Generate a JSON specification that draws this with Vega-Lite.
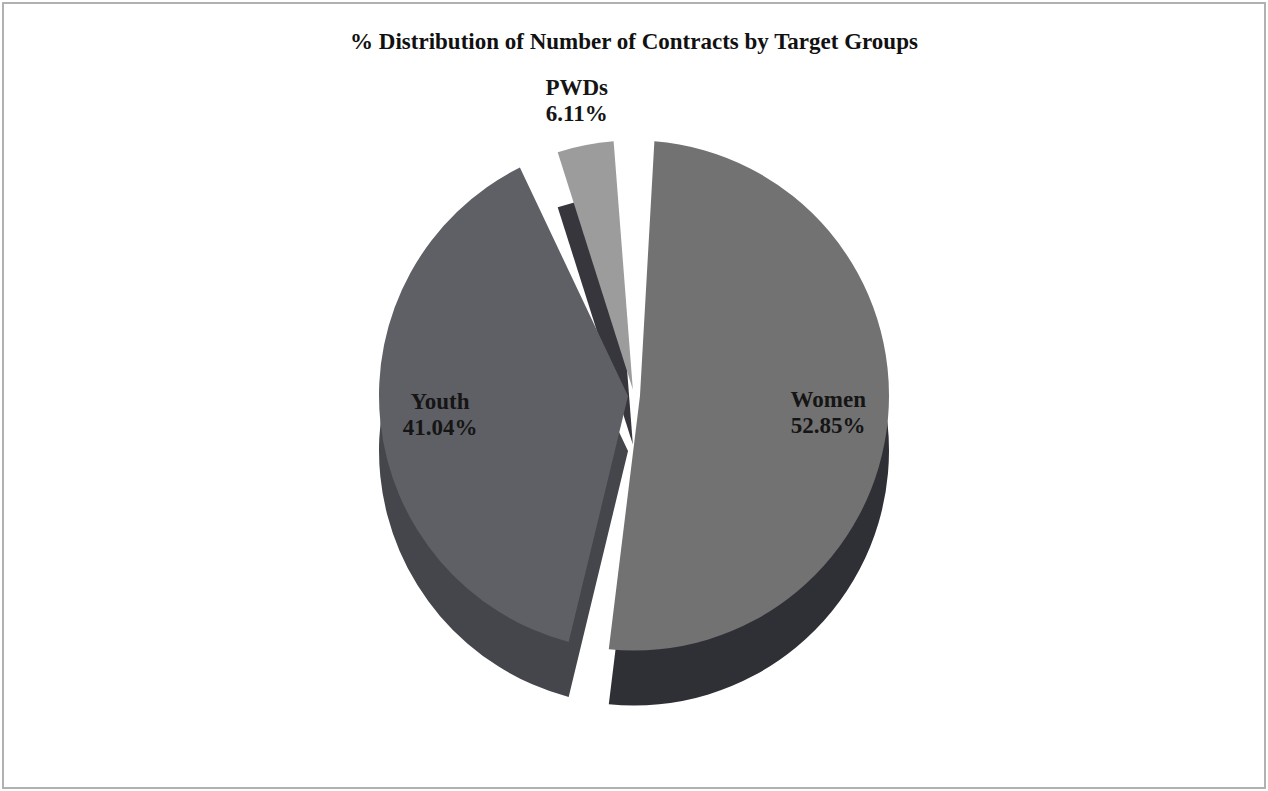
{
  "$schema": "https://vega.github.io/schema/vega-lite/v6.json",
  "width": 1268,
  "height": 791,
  "autosize": {"type": "fit", "contains": "padding"},
  "padding": {"left": 2, "right": 2, "top": 2, "bottom": 2},
  "background": "white",
  "title": {
    "text": "% Distribution of Number of Contracts by Target Groups",
    "font": "Liberation Serif",
    "fontSize": 23,
    "fontWeight": "bold",
    "color": "#111111",
    "anchor": "middle",
    "offset": -52
  },
  "config": {"view": {"stroke": null}},
  "data": {
    "values": [
      {"group": "Women", "share": 0.5285, "order": 1},
      {"group": "Youth", "share": 0.4104, "order": 2},
      {"group": "PWDs", "share": 0.0611, "order": 3}
    ]
  },
  "layer": [
    {
      "mark": {"type": "rect", "fill": null, "stroke": "#b0b0b0", "strokeWidth": 1.5},
      "encoding": {}
    },
    {
      "mark": {"type": "arc", "radius": 255, "radius2": 6, "padAngle": 0.16, "yOffset": 55},
      "encoding": {
        "theta": {"field": "share", "type": "quantitative", "stack": true},
        "order": {"field": "order", "type": "quantitative"},
        "color": {
          "field": "group",
          "type": "nominal",
          "scale": {"domain": ["Women", "Youth", "PWDs"], "range": ["#2f2f36", "#45464b", "#36363c"]},
          "legend": null
        }
      }
    },
    {
      "mark": {"type": "arc", "radius": 255, "radius2": 6, "padAngle": 0.16},
      "encoding": {
        "theta": {"field": "share", "type": "quantitative", "stack": true},
        "order": {"field": "order", "type": "quantitative"},
        "fill": {
          "field": "group",
          "type": "nominal",
          "scale": {"domain": ["Women", "Youth", "PWDs"], "range": ["#727272", "#5f6065", "#9c9c9c"]},
          "legend": null
        }
      }
    },
    {
      "mark": {"type": "text", "radius": 195, "font": "Liberation Serif", "fontSize": 23, "fontWeight": "bold", "color": "#151515", "dy": -13},
      "encoding": {
        "theta": {"field": "share", "type": "quantitative", "stack": true},
        "order": {"field": "order", "type": "quantitative"},
        "text": {"condition": {"test": "datum.group !== 'PWDs'", "field": "group", "type": "nominal"}, "value": ""}
      }
    },
    {
      "mark": {"type": "text", "radius": 195, "font": "Liberation Serif", "fontSize": 23, "fontWeight": "bold", "color": "#151515", "dy": 13},
      "encoding": {
        "theta": {"field": "share", "type": "quantitative", "stack": true},
        "order": {"field": "order", "type": "quantitative"},
        "text": {"condition": {"test": "datum.group !== 'PWDs'", "field": "share", "type": "quantitative", "format": ".2%"}, "value": ""}
      }
    },
    {
      "mark": {"type": "text", "radius": 300, "font": "Liberation Serif", "fontSize": 23, "fontWeight": "bold", "color": "#151515", "dy": -13},
      "encoding": {
        "theta": {"field": "share", "type": "quantitative", "stack": true},
        "order": {"field": "order", "type": "quantitative"},
        "text": {"condition": {"test": "datum.group === 'PWDs'", "field": "group", "type": "nominal"}, "value": ""}
      }
    },
    {
      "mark": {"type": "text", "radius": 300, "font": "Liberation Serif", "fontSize": 23, "fontWeight": "bold", "color": "#151515", "dy": 13},
      "encoding": {
        "theta": {"field": "share", "type": "quantitative", "stack": true},
        "order": {"field": "order", "type": "quantitative"},
        "text": {"condition": {"test": "datum.group === 'PWDs'", "field": "share", "type": "quantitative", "format": ".2%"}, "value": ""}
      }
    }
  ],
  "resolve": {"scale": {"color": "independent", "fill": "independent"}}
}
